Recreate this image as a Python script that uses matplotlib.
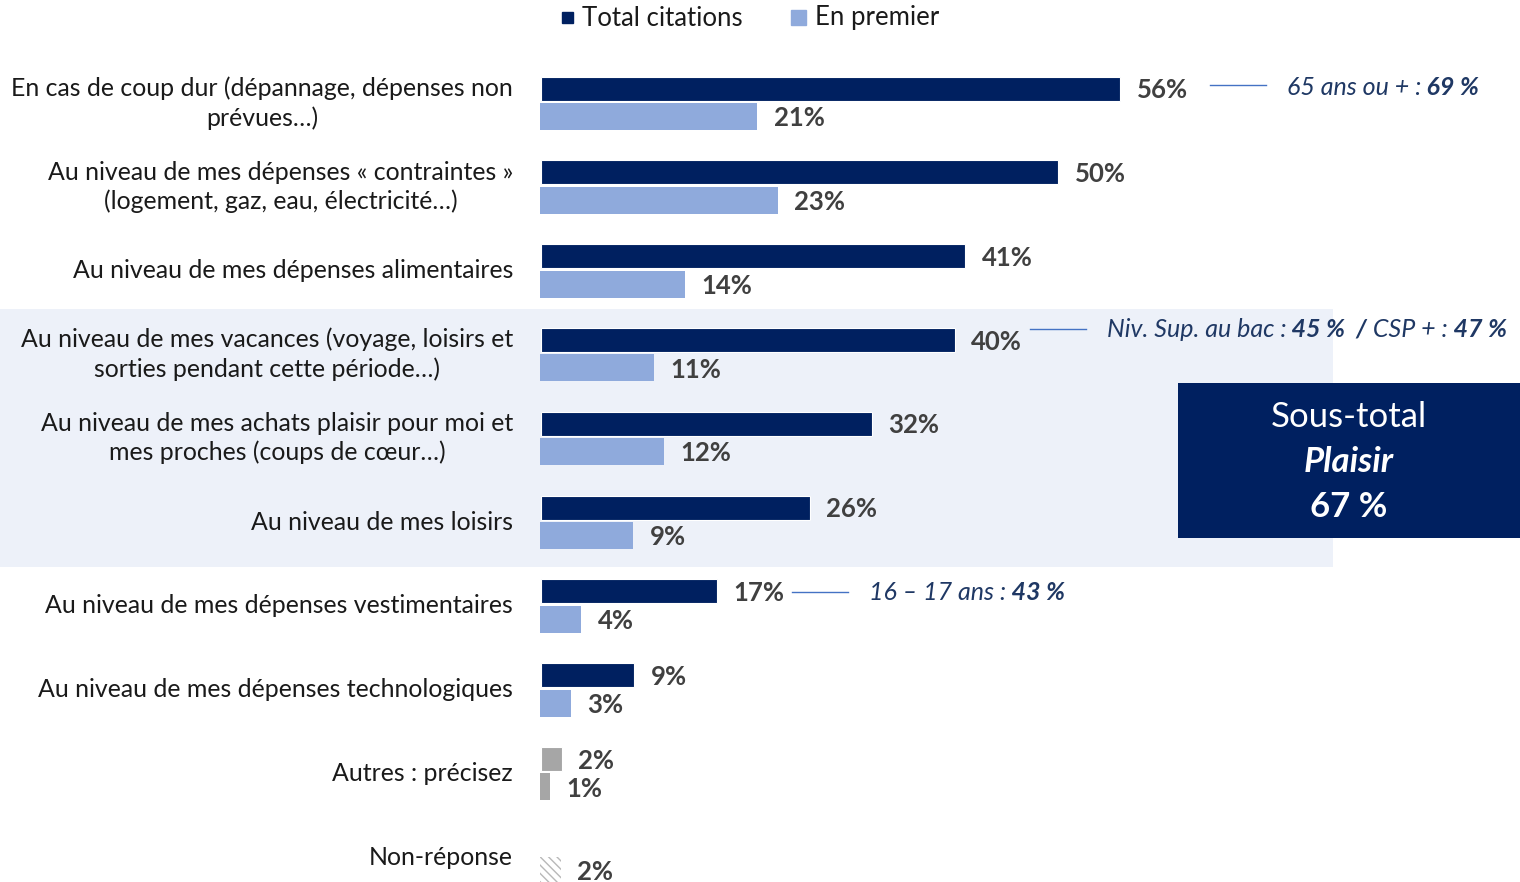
import numpy as np
import matplotlib
matplotlib.use("Agg")
import matplotlib.pyplot as plt
from matplotlib.patches import Rectangle

plt.rcParams['font.family'] = ['Lato', 'DejaVu Sans']

# données
categories = [
    "En cas de coup dur (dépannage, dépenses non\nprévues…)",
    "Au niveau de mes dépenses « contraintes »\n(logement, gaz, eau, électricité…)",
    "Au niveau de mes dépenses alimentaires",
    "Au niveau de mes vacances (voyage, loisirs et\nsorties pendant cette période…)",
    "Au niveau de mes achats plaisir pour moi et\nmes proches (coups de cœur…)",
    "Au niveau de mes loisirs",
    "Au niveau de mes dépenses vestimentaires",
    "Au niveau de mes dépenses technologiques",
    "Autres : précisez",
    "Non-réponse",
]
total_citations = [56, 50, 41, 40, 32, 26, 17, 9, 2, None]
en_premier = [21, 23, 14, 11, 12, 9, 4, 3, 1, 2]
kind = ['std'] * 8 + ['autre', 'nr']

# annotations (groupe, morceaux de texte)
annotations = [
    (0, [("65 ans ou + :", 'normal'), (" 69 %", 'bold')]),
    (3, [("Niv. Sup. au bac :", 'normal'), (" 45 %", 'bold'), ("  /", 'bold'),
         (" CSP + :", 'normal'), (" 47 %", 'bold')]),
    (6, [("16 – 17 ans :", 'normal'), (" 43 %", 'bold')]),
]
sous_total_label = "Plaisir"
sous_total_value = 67

DARK = '#002060'
LIGHT = '#8faadc'
GREY = '#a6a6a6'
VAL_COLOR = '#404040'
NOTE_COLOR = '#1f3864'

# placement des annotations : (décalage du trait après la barre, décalage vertical, décalage du texte) en px
note_layout = {0: (91, -3.5, 10), 3: (76, -11, 8), 6: (76, 1, 8)}

W, H = 1520, 882
fig = plt.figure(figsize=(W / 100, H / 100), dpi=100)

# fond (coordonnées pixels)
bg = fig.add_axes([0, 0, 1, 1], zorder=0)
bg.set_xlim(0, W)
bg.set_ylim(H, 0)
bg.axis('off')
bg.add_patch(Rectangle((0, 309), 1333, 258, color='#edf1f9', lw=0))

# axe principal : 0 % à x=540 px, 10.34 px par %
px_per_pct = 10.34
x0 = 540
ax = fig.add_axes([x0 / W, 0, (W - x0) / W, 1], zorder=1)
ax.patch.set_alpha(0)
ax.set_xlim(0, (W - x0) / px_per_pct)
gap = 83.8
ax.set_ylim((H - 102) / gap, -102 / gap)
ax.axis('off')

y = np.arange(len(categories))
off_d, h_d = -13.5 / gap, 24 / gap
off_l, h_l = 14.5 / gap, 27 / gap
lab_dx = 16.5 / px_per_pct

for i, (cat, t, p, k) in enumerate(zip(categories, total_citations, en_premier, kind)):
    if k == 'std':
        cd, cl, hatch = DARK, LIGHT, None
    elif k == 'autre':
        cd, cl, hatch = GREY, GREY, None
    else:
        cd, cl, hatch = None, 'white', '\\\\\\\\'
    if t is not None:
        ax.barh(y[i] + off_d, t, height=h_d, left=0.1, color=cd,
                edgecolor='white', lw=0.8)
        ax.text(t + 0.1 + lab_dx, y[i] + off_d + 0.02, f"{t}%", va='center',
                ha='left', fontsize=18.5, fontweight='bold', color=VAL_COLOR)
    if hatch:
        ax.barh(y[i] + off_l, p, height=h_l, color='white',
                edgecolor='#b8b8b8', hatch=hatch, lw=0)
    else:
        ax.barh(y[i] + off_l, p, height=h_l, color=cl, lw=0)
    ax.text(p + lab_dx, y[i] + off_l + 0.02, f"{p}%", va='center', ha='left',
            fontsize=18.5, fontweight='bold', color=VAL_COLOR)
    fig.text(513 / W, 1 - (103 + gap * i) / H, cat, ha='right',
             va='center', multialignment='center', fontsize=17.9,
             color='#1a1a1a', linespacing=1.3)

# légende
fig.patches.append(Rectangle((562 / W, 1 - 23 / H), 11 / W, 11 / H,
                             transform=fig.transFigure, color=DARK))
fig.text(582 / W, 1 - 18 / H, "Total citations", va='center', fontsize=18.5,
         color='#1a1a1a')
fig.patches.append(Rectangle((791 / W, 1 - 25 / H), 15 / W, 15 / H,
                             transform=fig.transFigure, color=LIGHT))
fig.text(815 / W, 1 - 18 / H, "En premier", va='center', fontsize=18.5,
         color='#1a1a1a')

# annotations avec trait
fig.canvas.draw()
renderer = fig.canvas.get_renderer()
for g, parts in annotations:
    dx, dy, tdy = note_layout[g]
    bar_end = x0 + total_citations[g] * px_per_pct
    ly = 102 + gap * g - 13.5 + dy
    bg.plot([bar_end + dx, bar_end + dx + 56], [ly, ly], color='#4472c4', lw=1)
    xp = bar_end + dx + 56 + 21
    for s, w in parts:
        txt = fig.text(xp / W, 1 - (ly + tdy) / H, s, ha='left', va='baseline',
                       fontsize=18, style='italic', fontweight=w,
                       color=NOTE_COLOR)
        xp += txt.get_window_extent(renderer).width

# encadré sous-total
bg.add_patch(Rectangle((1178, 383), 342, 155, color=DARK, lw=0))
bg.text(1349, 417, "Sous-total", ha='center', va='center', fontsize=25,
        color='white')
bg.text(1349, 462, sous_total_label, ha='center', va='center', fontsize=25,
        color='white', fontweight='bold', style='italic')
bg.text(1349, 507, f"{sous_total_value} %", ha='center', va='center',
        fontsize=25, color='white', fontweight='bold')

fig.savefig("out.png", dpi=100)
